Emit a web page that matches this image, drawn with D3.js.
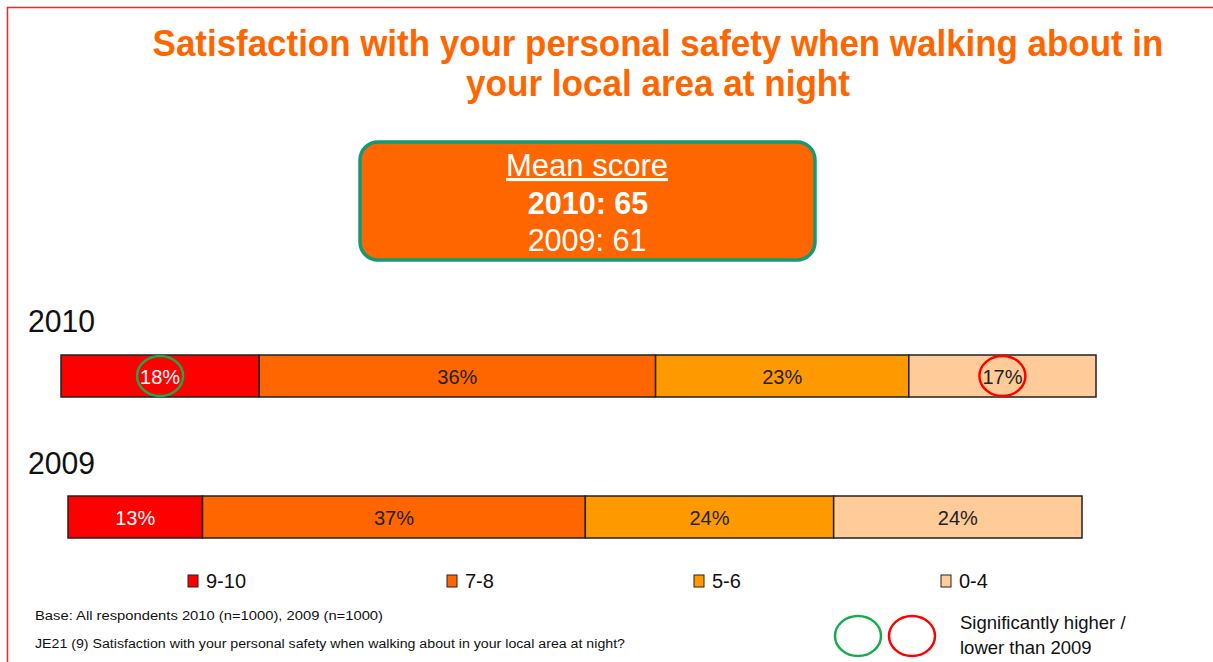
<!DOCTYPE html>
<html lang="en">
<head>
<meta charset="UTF-8">
<title>Personal safety at night</title>
<script src="https://cdn.jsdelivr.net/npm/d3@7"></script>
<style>
	body { margin: 0; background: #fff; }
	svg { display: block; font-family: "Liberation Sans", Arial, sans-serif; }
</style>
</head>
<body>
<script>
	// data
	var years = ['2010', '2009'];
	var bands = ['9-10', '7-8', '5-6', '0-4'];
	var values2010 = [18, 36, 23, 17];
	var values2009 = [13, 37, 24, 24];
	var meanScores = [65, 61];
	var sig2010 = ['higher', null, null, 'lower'];   // vs 2009

	var colors = ['#ff0000', '#ff6600', '#ff9900', '#ffcc99'];
	var labelColors = ['#ffffff', '#222222', '#222222', '#222222'];

	var W = 1213, H = 662;
	var svg = d3.select('body').append('svg')
		.attr('width', W)
		.attr('height', H);

	// slide frame
	svg.append('rect')
		.attr('x', 7.5).attr('y', 7.5)
		.attr('width', W).attr('height', H)
		.attr('fill', 'none')
		.attr('stroke', '#ff2020')
		.attr('stroke-width', 1.5);

	// title - narrow bold face, squeezed with a horizontal scale
	var titleLines = [
		{ t: 'Satisfaction with your personal safety when walking about in', y: 56, len: 1011 },
		{ t: 'your local area at night', y: 96, len: 384 }
	];
	svg.selectAll('.title')
		.data(titleLines)
		.enter().append('text')
		.attr('class', 'title')
		.attr('text-anchor', 'middle')
		.style('font-size', '37px')
		.style('font-weight', 'bold')
		.style('fill', '#ff6600')
		.text(function (d) { return d.t; })
		.attr('transform', function (d) {
			var sx = d.len / this.getComputedTextLength();
			return 'translate(658,' + d.y + ') scale(' + sx + ',1)';
		});

	// mean score box
	svg.append('rect')
		.attr('x', 360).attr('y', 142)
		.attr('width', 455).attr('height', 118)
		.attr('rx', 18)
		.attr('fill', '#ff6600')
		.attr('stroke', '#129a78')
		.attr('stroke-width', 3.5);

	svg.append('text')
		.attr('x', 587).attr('y', 176)
		.attr('text-anchor', 'middle')
		.style('font-size', '31px')
		.style('fill', '#fff')
		.style('text-decoration', 'underline')
		.text('Mean score');
	svg.append('text')
		.attr('x', 588).attr('y', 214)
		.attr('text-anchor', 'middle')
		.style('font-size', '30.5px')
		.style('font-weight', 'bold')
		.style('fill', '#fff')
		.text(years[0] + ': ' + meanScores[0]);
	svg.append('text')
		.attr('x', 587).attr('y', 251)
		.attr('text-anchor', 'middle')
		.style('font-size', '30.5px')
		.style('fill', '#fff')
		.text(years[1] + ': ' + meanScores[1]);

	// bars
	var rows = [
		{ year: years[0], vals: values2010, sig: sig2010, x0: 61, x1: 1096, y: 355, labelY: 332 },
		{ year: years[1], vals: values2009, sig: [null, null, null, null], x0: 68, x1: 1082, y: 496, labelY: 474 }
	];
	var barH = 42;

	rows.forEach(function (row) {
		var total = d3.sum(row.vals);
		var x = d3.scaleLinear().domain([0, total]).range([row.x0, row.x1]);
		var stacked = [];
		var acc = 0;
		row.vals.forEach(function (v, i) {
			stacked.push({ band: bands[i], v: v, start: acc, end: acc + v, i: i, sig: row.sig[i] });
			acc += v;
		});

		svg.append('text')
			.attr('x', 28).attr('y', row.labelY)
			.attr('textLength', 67)
			.attr('lengthAdjust', 'spacingAndGlyphs')
			.style('font-size', '32px')
			.style('fill', '#111')
			.text(row.year);

		var g = svg.append('g');
		g.selectAll('rect')
			.data(stacked)
			.enter().append('rect')
			.attr('x', function (d) { return x(d.start); })
			.attr('y', row.y)
			.attr('width', function (d) { return x(d.end) - x(d.start); })
			.attr('height', barH)
			.attr('fill', function (d) { return colors[d.i]; })
			.attr('stroke', '#222')
			.attr('stroke-width', 1.5);

		g.selectAll('text')
			.data(stacked)
			.enter().append('text')
			.attr('x', function (d) { return (x(d.start) + x(d.end)) / 2; })
			.attr('y', row.y + barH / 2 + 7.5)
			.attr('text-anchor', 'middle')
			.style('font-size', '20px')
			.style('fill', function (d) { return labelColors[d.i]; })
			.text(function (d) { return d.v + '%'; });

		g.selectAll('ellipse')
			.data(stacked.filter(function (d) { return d.sig; }))
			.enter().append('ellipse')
			.attr('cx', function (d) { return (x(d.start) + x(d.end)) / 2; })
			.attr('cy', row.y + barH / 2)
			.attr('rx', 23)
			.attr('ry', 20)
			.attr('fill', 'none')
			.attr('stroke', function (d) { return d.sig === 'higher' ? '#1aaa4e' : '#ff0000'; })
			.attr('stroke-width', 2.5);
	});

	// legend
	var legendX = [188, 447, 694, 941];
	var legend = svg.selectAll('.legend')
		.data(bands)
		.enter().append('g')
		.attr('class', 'legend')
		.attr('transform', function (d, i) { return 'translate(' + legendX[i] + ',574)'; });
	legend.append('rect')
		.attr('width', 10).attr('height', 12)
		.attr('y', 1)
		.attr('fill', function (d, i) { return colors[i]; })
		.attr('stroke', '#222')
		.attr('stroke-width', 1);
	legend.append('text')
		.attr('x', 18).attr('y', 14)
		.style('font-size', '20px')
		.style('fill', '#111')
		.text(function (d) { return d; });

	// notes
	svg.append('text')
		.attr('x', 35).attr('y', 620)
		.attr('textLength', 348)
		.attr('lengthAdjust', 'spacingAndGlyphs')
		.style('font-size', '12px')
		.style('fill', '#111')
		.text('Base: All respondents 2010 (n=1000), 2009 (n=1000)');
	svg.append('text')
		.attr('x', 35).attr('y', 648)
		.attr('textLength', 590)
		.attr('lengthAdjust', 'spacingAndGlyphs')
		.style('font-size', '12px')
		.style('fill', '#111')
		.text('JE21 (9) Satisfaction with your personal safety when walking about in your local area at night?');

	// significance key
	svg.append('ellipse')
		.attr('cx', 858).attr('cy', 636).attr('rx', 23).attr('ry', 20)
		.attr('fill', 'none').attr('stroke', '#1aaa4e').attr('stroke-width', 2.5);
	svg.append('ellipse')
		.attr('cx', 912).attr('cy', 636).attr('rx', 23).attr('ry', 20)
		.attr('fill', 'none').attr('stroke', '#ff0000').attr('stroke-width', 2.5);
	svg.append('text')
		.attr('x', 960).attr('y', 629)
		.style('font-size', '18.5px')
		.style('fill', '#111')
		.text('Significantly higher /');
	svg.append('text')
		.attr('x', 960).attr('y', 654)
		.style('font-size', '18.5px')
		.style('fill', '#111')
		.text('lower than 2009');
</script>
</body>
</html>
